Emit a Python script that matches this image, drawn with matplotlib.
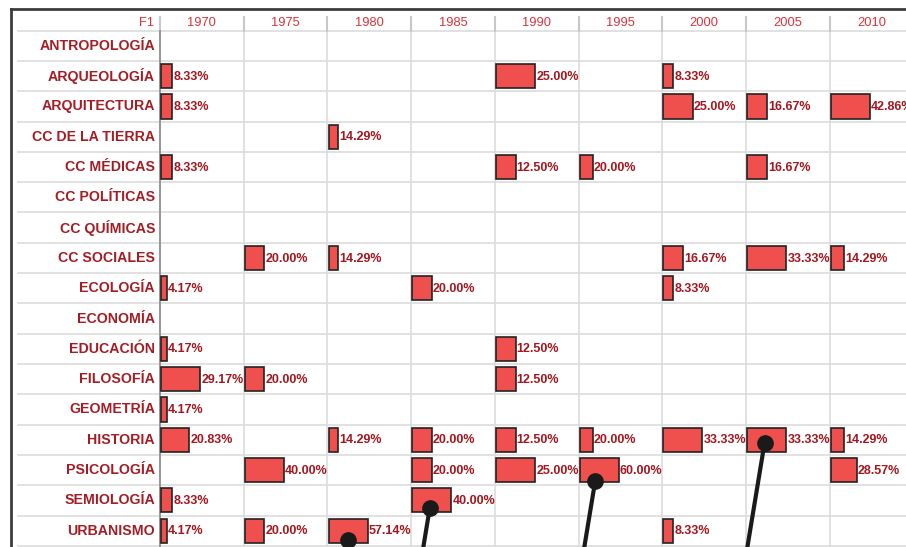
import matplotlib
matplotlib.use('Agg')
import matplotlib.pyplot as plt
from matplotlib.patches import Rectangle
from matplotlib.lines import Line2D

plt.rcParams["font.family"] = ["Liberation Sans", "DejaVu Sans"]

# ----------------------
# data
# ----------------------
years = [1970, 1975, 1980, 1985, 1990, 1995, 2000, 2005, 2010]
disciplines = ["ANTROPOLOGÍA", "ARQUEOLOGÍA", "ARQUITECTURA", "CC DE LA TIERRA",
               "CC MÉDICAS", "CC POLÍTICAS", "CC QUÍMICAS", "CC SOCIALES",
               "ECOLOGÍA", "ECONOMÍA", "EDUCACIÓN", "FILOSOFÍA", "GEOMETRÍA",
               "HISTORIA", "PSICOLOGÍA", "SEMIOLOGÍA", "URBANISMO"]

# percentage per discipline, one value per year (None = empty cell)
antropologia = [None, None, None, None, None, None, None, None, None]
arqueologia = [8.33, None, None, None, 25.00, None, 8.33, None, None]
arquitectura = [8.33, None, None, None, None, None, 25.00, 16.67, 42.86]
cc_tierra = [None, None, 14.29, None, None, None, None, None, None]
cc_medicas = [8.33, None, None, None, 12.50, 20.00, None, 16.67, None]
cc_politicas = [None, None, None, None, None, None, None, None, None]
cc_quimicas = [None, None, None, None, None, None, None, None, None]
cc_sociales = [None, 20.00, 14.29, None, None, None, 16.67, 33.33, 14.29]
ecologia = [4.17, None, None, 20.00, None, None, 8.33, None, None]
economia = [None, None, None, None, None, None, None, None, None]
educacion = [4.17, None, None, None, 12.50, None, None, None, None]
filosofia = [29.17, 20.00, None, None, 12.50, None, None, None, None]
geometria = [4.17, None, None, None, None, None, None, None, None]
historia = [20.83, None, 14.29, 20.00, 12.50, 20.00, 33.33, 33.33, 14.29]
psicologia = [None, 40.00, None, 20.00, 25.00, 60.00, None, None, 28.57]
semiologia = [8.33, None, None, 40.00, None, None, None, None, None]
urbanismo = [4.17, 20.00, 57.14, None, None, None, 8.33, None, None]

values = [antropologia, arqueologia, arquitectura, cc_tierra, cc_medicas,
          cc_politicas, cc_quimicas, cc_sociales, ecologia, economia,
          educacion, filosofia, geometria, historia, psicologia, semiologia,
          urbanismo]

# pointer annotations drawn over the table: (discipline, year)
pointers = [("URBANISMO", 1980), ("SEMIOLOGÍA", 1985),
            ("PSICOLOGÍA", 1995), ("HISTORIA", 2005)]
# where the dot sits relative to the bar centre, px (dx, dy)
pointer_offsets = [(0, 9), (-2, 7.5), (-4, 11), (-2, 3)]

# ----------------------
# layout (pixel based)
# ----------------------
W, H = 906, 547
col_w = 83.7      # px per year column
row_h = 30.3      # px per row
x0 = 160          # px where first year column starts
y0 = 30.7         # px where first data row starts

fig = plt.figure(figsize=(W / 100, H / 100), dpi=100)
ax = fig.add_axes([0, 0, 1, 1])
ax.set_xlim(-x0 / col_w, (W - x0) / col_w)
ax.set_ylim((H - y0) / row_h, -y0 / row_h)
ax.axis("off")

px = 1 / col_w
py = 1 / row_h
n_rows = len(disciplines)
n_cols = len(years)

grid_c = "#dcdcdc"
label_c = "#a51d24"
head_c = "#d9343c"
value_c = "#a3171f"
bar_c = "#f0504d"

# grid lines
for j in range(n_rows + 1):
    ax.plot([(18 - x0) * px, n_cols + 1], [j, j], color=grid_c, lw=1.2, zorder=1)
for k in range(n_cols + 1):
    ax.plot([k, k], [0, n_rows + 1], color=grid_c, lw=1.2, zorder=1)
    ax.plot([k, k], [(17 - y0) * py, 0], color="#c8c8c8", lw=1.5, zorder=1)
ax.plot([0, 0], [0, n_rows + 1], color="#8a8a8a", lw=1.2, zorder=2)

# header
head_y = -7.5 * py
ax.text(-6 * px, head_y, "F1", ha="right", va="center", color=head_c, fontsize=9.3)
for k, yr in enumerate(years):
    ax.text(k + 0.5, head_y, str(yr), ha="center", va="center",
            color=head_c, fontsize=9.3)

# row labels
for j, name in enumerate(disciplines):
    ax.text(-5 * px, j + 0.5, name, ha="right", va="center", color=label_c,
            fontsize=10.2, fontweight="bold")

# bars, scaled per column (column max = 39 px)
col_max = []
for k in range(n_cols):
    col_vals = [row[k] for row in values if row[k] is not None]
    col_max.append(max(col_vals) if col_vals else 1)

bar_pos = {}
for j, row in enumerate(values):
    for k, v in enumerate(row):
        if v is None:
            continue
        left = k + 1.2 * px
        w = v / col_max[k] * 39 * px
        ax.add_patch(Rectangle((left, j + 0.1), w, 0.8, facecolor=bar_c,
                               edgecolor="#222222", lw=1.2, zorder=3))
        ax.text(left + w + 1.2 * px, j + 0.52, "%.2f%%" % v, ha="left",
                va="center", color=value_c, fontsize=9, fontweight="bold",
                zorder=4)
        bar_pos[(disciplines[j], years[k])] = (left + w / 2, j + 0.5)

# pointers
for (name, yr), (dx, dy) in zip(pointers, pointer_offsets):
    bx, by = bar_pos[(name, yr)]
    dot_x = bx + dx * px
    dot_y = by + dy * py
    end_y = dot_y + 120 * py
    end_x = dot_x - 120 * 0.165 * px
    ax.plot([dot_x, end_x], [dot_y, end_y], color="#1a1a1a", lw=3,
            solid_capstyle="round", zorder=6, clip_on=False)
    ax.plot(dot_x, dot_y, "o", color="#1a1a1a", ms=11, zorder=7)

# outer frame
fig.add_artist(Line2D([11 / W, 1], [1 - 9.3 / H, 1 - 9.3 / H], color="#3c3c3c", lw=2))
fig.add_artist(Line2D([11 / W, 11 / W], [0, 1 - 9.3 / H], color="#3c3c3c", lw=2))

fig.savefig("out.png", dpi=100)
plt.close()
